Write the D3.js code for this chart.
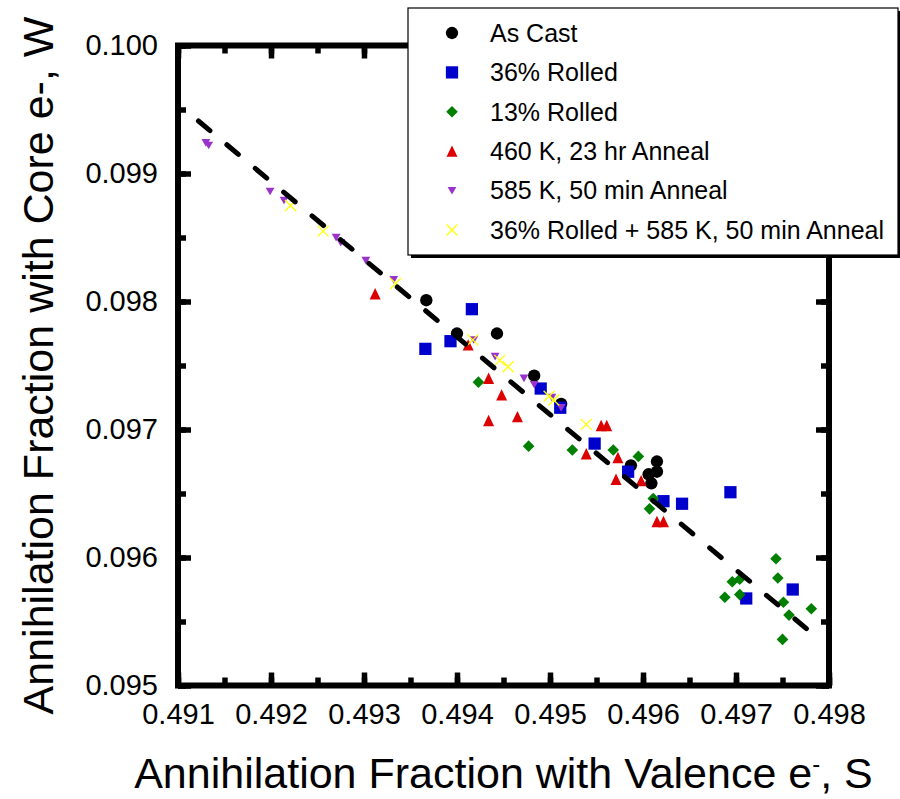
<!DOCTYPE html>
<html lang="en">
<head>
  <meta charset="UTF-8" />
  <title>Annihilation fractions S vs W</title>
  <script src="https://d3js.org/d3.v7.min.js"></script>
  <style>
    body { margin: 0; background: #fff; font-family: "Liberation Sans", Arial, sans-serif; }
    svg text { fill: #000; }
    .tick line { stroke: #000; stroke-width: 5.5; }
  </style>
</head>
<body>
  <svg id="chart" width="900" height="799"></svg>

  <script>
    // series, legend order
    const seriesNames = ["As Cast", "36% Rolled", "13% Rolled", "460 K, 23 hr Anneal",
                         "585 K, 50 min Anneal", "36% Rolled + 585 K, 50 min Anneal"];
    const seriesColors = ["#000000", "#0000cc", "#008000", "#dd0000", "#9933cc", "#ffff00"];
    const seriesShapes = ["circle", "square", "diamond", "triangleUp", "triangleDown", "cross"];

    // S (valence) and W (core) values
    const asCastS = [0.49367, 0.49400, 0.49443, 0.49483, 0.49512, 0.49615, 0.49587, 0.49615, 0.49606, 0.49609];
    const asCastW = [0.09801, 0.09775, 0.09775, 0.09742, 0.09720, 0.09675, 0.09672, 0.09667, 0.09665, 0.09658];

    const rolled36S = [0.49416, 0.49393, 0.49366, 0.49490, 0.49511, 0.49548, 0.49584, 0.49622, 0.49642, 0.49694, 0.49761, 0.49711];
    const rolled36W = [0.09794, 0.09769, 0.09763, 0.09732, 0.09717, 0.09689, 0.09667, 0.09644, 0.09642, 0.09651, 0.09575, 0.09568];

    const rolled13S = [0.49423, 0.49477, 0.49524, 0.49568, 0.49595, 0.49611, 0.49607, 0.49743, 0.49745, 0.49696,
                       0.49704, 0.49704, 0.49688, 0.49751, 0.49757, 0.49781, 0.49750];
    const rolled13W = [0.09737, 0.09687, 0.09684, 0.09684, 0.09679, 0.09646, 0.09638, 0.09599, 0.09584, 0.09581,
                       0.09583, 0.09571, 0.09569, 0.09565, 0.09555, 0.09560, 0.09536];

    const anneal460S = [0.49312, 0.49412, 0.49434, 0.49448, 0.49434, 0.49465, 0.49555, 0.49561, 0.49539, 0.49573,
                        0.49571, 0.49598, 0.49615, 0.49622];
    const anneal460W = [0.09806, 0.09766, 0.09740, 0.09727, 0.09707, 0.09710, 0.09703, 0.09703, 0.09681, 0.09678,
                        0.09661, 0.09660, 0.09628, 0.09628];

    const anneal585S = [0.49130, 0.49133, 0.49199, 0.49214, 0.49270, 0.49275, 0.49302, 0.49332, 0.49418, 0.49441,
                        0.49472, 0.49483, 0.49502, 0.49512];
    const anneal585W = [0.09924, 0.09922, 0.09886, 0.09879, 0.09850, 0.09846, 0.09832, 0.09817, 0.09770, 0.09757,
                        0.09740, 0.09735, 0.09725, 0.09717];

    const rolledAnnealS = [0.49221, 0.49256, 0.49334, 0.49417, 0.49446, 0.49455, 0.49499, 0.49504, 0.49539];
    const rolledAnnealW = [0.09875, 0.09855, 0.09814, 0.09770, 0.09754, 0.09749, 0.09726, 0.09723, 0.09704];

    // dashed linear fit
    const fitS = [0.49122, 0.49783];
    const fitW = [0.09941, 0.09540];

    const xTickValues = [0.491, 0.492, 0.493, 0.494, 0.495, 0.496, 0.497, 0.498];
    const yTickValues = [0.095, 0.096, 0.097, 0.098, 0.099, 0.100];

    const seriesS = [asCastS, rolled36S, rolled13S, anneal460S, anneal585S, rolledAnnealS];
    const seriesW = [asCastW, rolled36W, rolled13W, anneal460W, anneal585W, rolledAnnealW];

    const series = seriesNames.map((name, i) => ({
      name,
      color: seriesColors[i],
      shape: seriesShapes[i],
      points: seriesS[i].map((s, j) => ({ s, w: seriesW[i][j] }))
    }));

    const svg = d3.select("#chart");
    const margin = { left: 178, top: 45.5 };
    const width = 651, height = 640;

    const x = d3.scaleLinear().domain([0.491, 0.498]).range([0, width]);
    const y = d3.scaleLinear().domain([0.095, 0.100]).range([height, 0]);

    const g = svg.append("g").attr("transform", `translate(${margin.left},${margin.top})`);

    const minorX = x.ticks(14), minorY = y.ticks(10);
    const major = 13, minor = 8;

    function noDomain(sel) { sel.select(".domain").remove(); }

    // minor ticks on all four sides
    g.append("g").attr("transform", `translate(0,${height})`)
      .call(d3.axisBottom(x).tickValues(minorX).tickSize(-minor).tickFormat("")).call(noDomain);
    g.append("g")
      .call(d3.axisTop(x).tickValues(minorX).tickSize(-minor).tickFormat("")).call(noDomain);
    g.append("g")
      .call(d3.axisLeft(y).tickValues(minorY).tickSize(-minor).tickFormat("")).call(noDomain);
    g.append("g").attr("transform", `translate(${width},0)`)
      .call(d3.axisRight(y).tickValues(minorY).tickSize(-minor).tickFormat("")).call(noDomain);

    // major ticks + labels
    const xAxis = g.append("g").attr("transform", `translate(0,${height})`)
      .call(d3.axisBottom(x).tickValues(xTickValues).tickSize(-major).tickPadding(18).tickFormat(d3.format(".3f")))
      .call(noDomain);
    xAxis.selectAll("text").attr("font-size", 29).attr("font-family", "Liberation Sans, Arial, sans-serif");

    const yAxis = g.append("g")
      .call(d3.axisLeft(y).tickValues(yTickValues).tickSize(-major).tickPadding(20).tickFormat(d3.format(".3f")))
      .call(noDomain);
    yAxis.selectAll("text").attr("font-size", 29).attr("font-family", "Liberation Sans, Arial, sans-serif");

    g.append("g")
      .call(d3.axisTop(x).tickValues(xTickValues).tickSize(-major).tickFormat("")).call(noDomain);
    g.append("g").attr("transform", `translate(${width},0)`)
      .call(d3.axisRight(y).tickValues(yTickValues).tickSize(-major).tickFormat("")).call(noDomain);

    // frame
    g.append("rect")
      .attr("width", width).attr("height", height)
      .attr("fill", "none").attr("stroke", "#000").attr("stroke-width", 6)
      .attr("stroke-linejoin", "miter");

    // marker shapes
    function markerPath(shape) {
      switch (shape) {
        case "circle": return d3.symbol(d3.symbolCircle, 120)();
        case "square": return d3.symbol(d3.symbolSquare, 150)();
        case "diamond": return "M0,-5.8L5.8,0L0,5.8L-5.8,0Z";
        case "triangleUp": return "M0,-5.8L5.5,5.6L-5.5,5.6Z";
        case "triangleDown": return "M-4.4,-3.7L4.4,-3.7L0,3.9Z";
        case "cross": return "M-5.5,-5.5L5.5,5.5M-5.5,5.5L5.5,-5.5";
      }
    }
    function styleMarker(sel, d) {
      if (d.shape === "cross") {
        sel.attr("fill", "none").attr("stroke", d.color).attr("stroke-width", 1.3);
      } else {
        sel.attr("fill", d.color).attr("stroke", "none");
      }
    }

    const groups = g.selectAll("g.series")
      .data(series)
      .join("g")
      .attr("class", "series");

    groups.each(function (d) {
      d3.select(this).selectAll("path")
        .data(d.points)
        .join("path")
        .attr("d", markerPath(d.shape))
        .attr("transform", p => `translate(${x(p.s)},${y(p.w)})`)
        .call(styleMarker, d);
    });

    // dashed fit line
    g.append("path")
      .datum(fitS.map((s, i) => [s, fitW[i]]))
      .attr("d", d3.line().x(d => x(d[0])).y(d => y(d[1])))
      .attr("fill", "none")
      .attr("stroke", "#000")
      .attr("stroke-width", 5)
      .attr("stroke-linecap", "round")
      .attr("stroke-dasharray", "15 22");

    // axis titles
    svg.append("text")
      .attr("x", margin.left + width / 2)
      .attr("y", 788)
      .attr("text-anchor", "middle")
      .attr("font-size", 43)
      .html('Annihilation Fraction with Valence e<tspan dy="-16" font-size="24">-</tspan><tspan dy="16">, S</tspan>');

    svg.append("text")
      .attr("transform", `translate(53,${margin.top + height / 2}) rotate(-90)`)
      .attr("text-anchor", "middle")
      .attr("font-size", 43)
      .text("Annihilation Fraction with Core e-, W");

    // legend
    const lx = 408, ly = 8, lw = 490, lh = 247;
    svg.append("rect")
      .attr("x", lx + 3).attr("y", ly + 3)
      .attr("width", lw).attr("height", lh)
      .attr("fill", "#000");
    svg.append("rect")
      .attr("x", lx).attr("y", ly)
      .attr("width", lw).attr("height", lh)
      .attr("fill", "#fff").attr("stroke", "#000").attr("stroke-width", 1.2);

    const legendItem = svg.selectAll("g.legend-item")
      .data(series)
      .join("g")
      .attr("class", "legend-item")
      .attr("transform", (d, i) => `translate(${lx + 44},${ly + 25 + i * 39.4})`);

    legendItem.append("path")
      .attr("d", d => markerPath(d.shape))
      .each(function (d) { d3.select(this).call(styleMarker, d); });

    legendItem.append("text")
      .attr("x", 38)
      .attr("dy", "0.35em")
      .attr("font-size", 25)
      .text(d => d.name);
  </script>
</body>
</html>
